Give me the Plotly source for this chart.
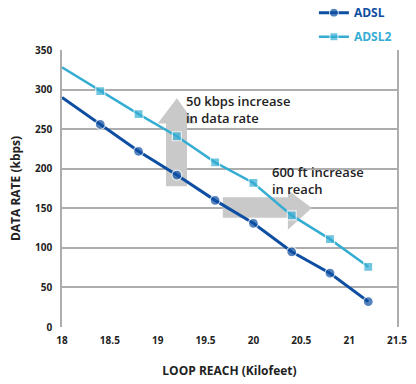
import plotly.graph_objects as go

# Data
loop_reach = [18.0, 18.4, 18.8, 19.2, 19.6, 20.0, 20.4, 20.8, 21.2]
adsl = [290, 256, 222, 192, 160, 131, 95, 68, 32]
adsl2 = [328, 298, 269, 241, 208, 182, 141, 111, 76]
x_ticks = [18, 18.5, 19, 19.5, 20, 20.5, 21, 21.5]
x_tick_labels = ["18", "18.5", "19", "19.5", "20", "20.5", "21", "21.5"]
y_ticks = [0, 50, 100, 150, 200, 250, 300, 350]

C1 = "#0d4ea2"
C2 = "#35add3"
ARROW = "#c9c9c9"
FONT = "Open Sans"

msize1 = [0] + [10] * (len(loop_reach) - 1)
msize2 = [0] + [9] * (len(loop_reach) - 1)
mline = [0] + [1.2] * (len(loop_reach) - 1)

fig = go.Figure()
fig.add_trace(go.Scatter(
    x=loop_reach, y=adsl, name="ADSL", mode="lines+markers",
    line=dict(color=C1, width=3),
    marker=dict(symbol="circle", size=msize1, color=C1, line=dict(color="white", width=mline)),
    legend="legend",
))
fig.add_trace(go.Scatter(
    x=loop_reach, y=adsl2, name="ADSL2", mode="lines+markers",
    line=dict(color=C2, width=2.5),
    marker=dict(symbol="square", size=msize2, color=C2, line=dict(color="white", width=mline)),
    legend="legend2",
))

# Block arrows (data coordinates)
up_arrow = ("M 19.087 178 L 19.087 257 L 19.0 257 L 19.2 289 L 19.39 257 "
            "L 19.306 257 L 19.306 178 Z")
right_arrow = ("M 19.68 164 L 20.36 164 L 20.36 173 L 20.61 150.5 L 20.36 123 "
               "L 20.36 138 L 19.68 138 Z")
for p in (up_arrow, right_arrow):
    fig.add_shape(type="path", path=p, xref="x", yref="y", fillcolor=ARROW,
                  line=dict(width=0), layer="between")

fig.add_annotation(x=19.27, y=300, xref="x", yref="y", xanchor="left", yanchor="top",
                   text="50 kbps increase<br>in data rate", showarrow=False, align="left",
                   font=dict(family=FONT, size=13, color="#222222", weight=600))
fig.add_annotation(x=20.17, y=210, xref="x", yref="y", xanchor="left", yanchor="top",
                   text="600 ft increase<br>in reach", showarrow=False, align="left",
                   font=dict(family=FONT, size=13, color="#222222", weight=600))

fig.update_layout(
    width=416, height=384,
    margin=dict(l=62, r=19, t=50, b=57, autoexpand=False),
    paper_bgcolor="white", plot_bgcolor="white",
    font=dict(family=FONT, color="#222222"),
    showlegend=True,
    legend=dict(x=0.752, y=1.187, xanchor="left", yanchor="top", bgcolor="rgba(0,0,0,0)",
                font=dict(family=FONT, size=12, color=C1, weight=700), itemwidth=30),
    legend2=dict(x=0.752, y=1.1, xanchor="left", yanchor="top", bgcolor="rgba(0,0,0,0)",
                 font=dict(family=FONT, size=12, color=C2, weight=700), itemwidth=30),
    xaxis=dict(range=[18, 21.5], tickvals=x_ticks, ticktext=x_tick_labels,
               showgrid=False, zeroline=False, showline=False, ticks="",
               ticklabelstandoff=6,
               tickfont=dict(family=FONT, size=10, color="#222222", weight=700),
               title=dict(text="LOOP REACH (Kilofeet)", standoff=20,
                          font=dict(family=FONT, size=12, color="#222222", weight=700))),
    yaxis=dict(range=[0, 350], tickvals=y_ticks, showgrid=True, gridcolor="#adadad",
               gridwidth=1.5, zeroline=False, showline=True, mirror=True,
               linecolor="#adadad", linewidth=1.5, ticks="",
               ticklabelstandoff=6,
               tickfont=dict(family=FONT, size=10, color="#222222", weight=700),
               title=dict(text="DATA RATE (kbps)", standoff=12,
                          font=dict(family=FONT, size=12, color="#222222", weight=700))),
)

fig.write_html("out.html", config={"displayModeBar": False},
               post_script="document.body.style.margin='0';")
